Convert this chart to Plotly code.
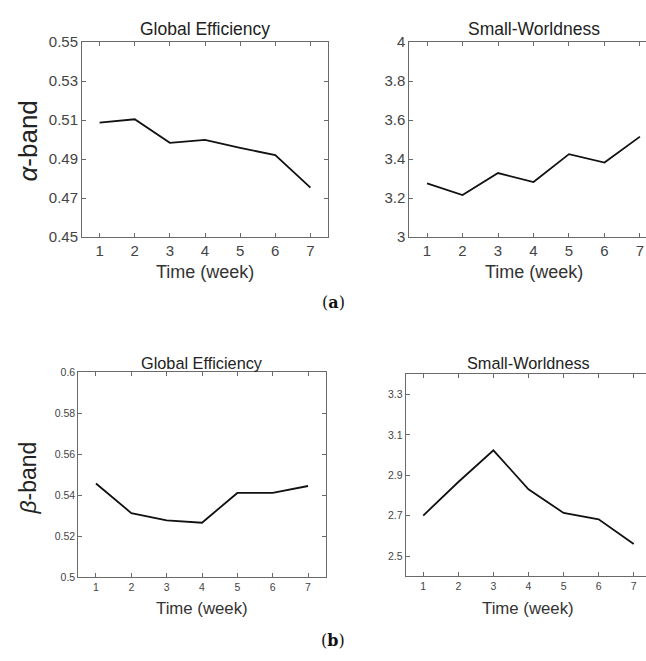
import plotly.graph_objects as go

weeks = [1, 2, 3, 4, 5, 6, 7]
alpha_global_eff = [0.5087, 0.5104, 0.4983, 0.4998, 0.4957, 0.4920, 0.4753]
alpha_small_world = [3.275, 3.215, 3.328, 3.282, 3.425, 3.382, 3.515]
beta_global_eff = [0.5457, 0.5313, 0.5277, 0.5266, 0.5411, 0.5411, 0.5445]
beta_small_world = [2.701, 2.867, 3.024, 2.831, 2.714, 2.682, 2.560]

panel_titles = ["Global Efficiency", "Small-Worldness"]
x_label = "Time (week)"
row_labels = ["<i>\u03b1</i>-band", "<i>\u03b2</i>-band"]
caption_labels = ["(<b>a</b>)", "(<b>b</b>)"]

W, H = 646, 661
AXC = "#6a6a6a"
TXT = "#444444"
FONT = "Liberation Sans, Arial, sans-serif"

def px(x):
    return x / W

def py(y):
    return 1 - y / H

# panel boxes in pixels: (left, right, top, bottom)
boxes = {
    1: (82, 328, 34, 234),
    2: (409.3, 646, 34, 234),
    3: (78.3, 325.7, 372.7, 583.3),
    4: (405.7, 646, 375, 582.3),
}

fig = go.Figure()
series = [alpha_global_eff, alpha_small_world, beta_global_eff, beta_small_world]
for i, ys in enumerate(series, start=1):
    fig.add_trace(go.Scatter(
        x=weeks, y=ys, mode="lines",
        line=dict(color="#111111", width=1.8),
        xaxis="x" if i == 1 else f"x{i}",
        yaxis="y" if i == 1 else f"y{i}",
        showlegend=False, hoverinfo="x+y",
    ))

xranges = {1: [0.5, 7.5], 2: [0.5, 7.17], 3: [0.5, 7.5], 4: [0.5, 7.35]}
yranges = {1: [0.45, 0.55], 2: [3, 4], 3: [0.5, 0.6], 4: [2.4, 3.4]}
ytickvals = {
    1: [0.45, 0.47, 0.49, 0.51, 0.53, 0.55],
    2: [3, 3.2, 3.4, 3.6, 3.8, 4],
    3: [0.5, 0.52, 0.54, 0.56, 0.58, 0.6],
    4: [2.5, 2.7, 2.9, 3.1, 3.3],
}
ytickfmt = {1: ".2f", 2: "", 3: "", 4: ".1f"}
tick_size = {1: 15, 2: 15, 3: 10.5, 4: 10.5}

layout = {}
for i in range(1, 5):
    l, r, t, b = boxes[i]
    xk = "xaxis" if i == 1 else f"xaxis{i}"
    yk = "yaxis" if i == 1 else f"yaxis{i}"
    ya = "y" if i == 1 else f"y{i}"
    xa = "x" if i == 1 else f"x{i}"
    right_cut = i in (2, 4)
    layout[xk] = dict(
        domain=[px(l), min(px(r), 1.0)], range=xranges[i], anchor=ya,
        tickvals=weeks, ticks="inside", ticklen=4, tickcolor=AXC,
        showline=True, linecolor=AXC, linewidth=1, mirror="ticks",
        showgrid=False, zeroline=False,
        tickfont=dict(family=FONT, size=tick_size[i], color=TXT),
        fixedrange=True,
    )
    layout[yk] = dict(
        domain=[py(b), py(t)], range=yranges[i], anchor=xa,
        tickvals=ytickvals[i], tickformat=ytickfmt[i],
        ticks="inside", ticklen=4, tickcolor=AXC,
        showline=True, linecolor=AXC, linewidth=1,
        mirror=False if right_cut else "ticks",
        showgrid=False, zeroline=False,
        tickfont=dict(family=FONT, size=tick_size[i], color=TXT),
        fixedrange=True,
    )

annotations = []
title_y = {1: 21, 2: 21, 3: 363.3, 4: 363.3}
xlab_y = {1: 270, 2: 270, 3: 615, 4: 615}
title_size = {1: 17.5, 2: 17.5, 3: 16.3, 4: 16.3}
for i in range(1, 5):
    l, r, t, b = boxes[i]
    if i == 2:
        cx = 409.3 + (646 + 12 - 409.3) / 2
    elif i == 4:
        cx = 405.7 + (651 - 405.7) / 2
    else:
        cx = (l + r) / 2
    annotations.append(dict(
        text=panel_titles[(i - 1) % 2], x=px(cx), y=py(title_y[i]),
        xref="paper", yref="paper", xanchor="center", yanchor="middle",
        showarrow=False, font=dict(family=FONT, size=title_size[i], color="#222222"),
    ))
    annotations.append(dict(
        text=x_label, x=px(cx), y=py(xlab_y[i]),
        xref="paper", yref="paper", xanchor="center", yanchor="middle",
        showarrow=False, font=dict(family=FONT, size=title_size[i] + 0.5, color="#333333"),
    ))

annotations.append(dict(
    text=row_labels[0], x=px(28), y=py(136), xref="paper", yref="paper",
    xanchor="center", yanchor="middle", textangle=-90, showarrow=False,
    font=dict(family=FONT, size=26, color="#222222"),
))
annotations.append(dict(
    text=row_labels[1], x=px(28), y=py(482), xref="paper", yref="paper",
    xanchor="center", yanchor="middle", textangle=-90, showarrow=False,
    font=dict(family=FONT, size=23, color="#222222"),
))
annotations.append(dict(
    text=caption_labels[0], x=px(333), y=py(301), xref="paper", yref="paper",
    xanchor="center", yanchor="middle", showarrow=False,
    font=dict(family="DejaVu Serif, Liberation Serif, serif", size=16, color="#111111"),
))
annotations.append(dict(
    text=caption_labels[1], x=px(333), y=py(648), xref="paper", yref="paper",
    xanchor="center", yanchor="middle", showarrow=False,
    font=dict(family="DejaVu Serif, Liberation Serif, serif", size=16, color="#111111"),
))

fig.update_layout(
    width=W, height=H, margin=dict(l=0, r=0, t=0, b=0),
    paper_bgcolor="white", plot_bgcolor="white",
    annotations=annotations, **layout,
)

fig.write_html(
    "out.html",
    config={"displayModeBar": False},
    post_script="document.body.style.margin='0';document.body.style.overflow='hidden';",
)
